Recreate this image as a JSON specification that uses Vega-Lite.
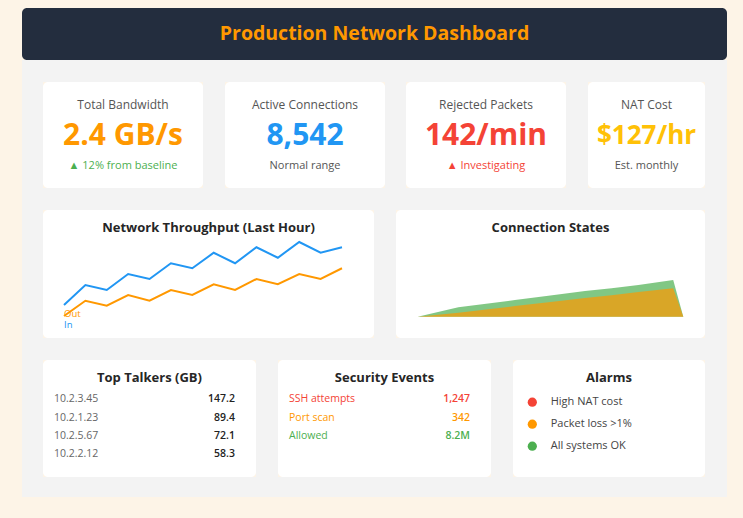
{
  "$schema": "https://vega.github.io/schema/vega-lite/v6.json",
  "background": "#fdf4e7",
  "padding": {"left": 22, "top": 8, "right": 16, "bottom": 21},
  "config": {"font": "Open Sans", "view": {"stroke": null}},
  "datasets": {
    "header": [{"title": "Production Network Dashboard"}],
    "kpi": [
      {"card": "bandwidth", "part": "label", "text": "Total Bandwidth", "tone": "caption"},
      {"card": "bandwidth", "part": "value", "text": "2.4 GB/s", "tone": "bandwidth"},
      {"card": "bandwidth", "part": "note", "text": "▲ 12% from baseline", "tone": "up"},
      {"card": "connections", "part": "label", "text": "Active Connections", "tone": "caption"},
      {"card": "connections", "part": "value", "text": "8,542", "tone": "connections"},
      {"card": "connections", "part": "note", "text": "Normal range", "tone": "neutral"},
      {"card": "rejected", "part": "label", "text": "Rejected Packets", "tone": "caption"},
      {"card": "rejected", "part": "value", "text": "142/min", "tone": "rejected"},
      {"card": "rejected", "part": "note", "text": "▲ Investigating", "tone": "alert"},
      {"card": "nat", "part": "label", "text": "NAT Cost", "tone": "caption"},
      {"card": "nat", "part": "value", "text": "$127/hr", "tone": "cost"},
      {"card": "nat", "part": "note", "text": "Est. monthly", "tone": "neutral"}
    ],
    "throughput": [
      {"t": 0, "series": "In", "v": 25.8}, {"t": 1, "series": "In", "v": 41.4}, {"t": 2, "series": "In", "v": 37.5},
      {"t": 3, "series": "In", "v": 50.0}, {"t": 4, "series": "In", "v": 46.1}, {"t": 5, "series": "In", "v": 58.4},
      {"t": 6, "series": "In", "v": 54.5}, {"t": 7, "series": "In", "v": 66.6}, {"t": 8, "series": "In", "v": 58.4},
      {"t": 9, "series": "In", "v": 70.9}, {"t": 10, "series": "In", "v": 62.7}, {"t": 11, "series": "In", "v": 75.0},
      {"t": 12, "series": "In", "v": 66.6}, {"t": 13, "series": "In", "v": 70.9},
      {"t": 0, "series": "Out", "v": 17.2}, {"t": 1, "series": "Out", "v": 29.1}, {"t": 2, "series": "Out", "v": 25.2},
      {"t": 3, "series": "Out", "v": 33.6}, {"t": 4, "series": "Out", "v": 29.1}, {"t": 5, "series": "Out", "v": 37.5},
      {"t": 6, "series": "Out", "v": 33.6}, {"t": 7, "series": "Out", "v": 42.0}, {"t": 8, "series": "Out", "v": 37.5},
      {"t": 9, "series": "Out", "v": 46.1}, {"t": 10, "series": "Out", "v": 42.0}, {"t": 11, "series": "Out", "v": 50.0},
      {"t": 12, "series": "Out", "v": 46.1}, {"t": 13, "series": "Out", "v": 54.5}
    ],
    "conn": [
      {"t": 0, "state": "total", "count": 0}, {"t": 15.3, "state": "total", "count": 9.4}, {"t": 36.6, "state": "total", "count": 16.7},
      {"t": 49.2, "state": "total", "count": 21.0}, {"t": 63.0, "state": "total", "count": 25.7}, {"t": 73.0, "state": "total", "count": 28.4},
      {"t": 83.1, "state": "total", "count": 31.7}, {"t": 96.2, "state": "total", "count": 36.7}, {"t": 100, "state": "total", "count": 0},
      {"t": 0, "state": "established", "count": 0}, {"t": 15.3, "state": "established", "count": 4.0}, {"t": 36.6, "state": "established", "count": 10.6},
      {"t": 49.2, "state": "established", "count": 14.5}, {"t": 63.0, "state": "established", "count": 18.7}, {"t": 73.0, "state": "established", "count": 21.4},
      {"t": 83.1, "state": "established", "count": 24.6}, {"t": 96.2, "state": "established", "count": 28.4}, {"t": 100, "state": "established", "count": 0}
    ],
    "talkers": [
      {"ip": "10.2.3.45", "gb": 147.2},
      {"ip": "10.2.1.23", "gb": 89.4},
      {"ip": "10.2.5.67", "gb": 72.1},
      {"ip": "10.2.2.12", "gb": 58.3}
    ],
    "security": [
      {"event": "SSH attempts", "count": 1247, "shown": "1,247", "severity": "high"},
      {"event": "Port scan", "count": 342, "shown": "342", "severity": "medium"},
      {"event": "Allowed", "count": 8200000, "shown": "8.2M", "severity": "ok"}
    ],
    "alarms": [
      {"alarm": "High NAT cost", "level": "critical"},
      {"alarm": "Packet loss >1%", "level": "warning"},
      {"alarm": "All systems OK", "level": "ok"}
    ]
  },
  "spacing": 0,
  "resolve": {"scale": {"color": "independent", "x": "independent", "y": "independent"}},
  "vconcat": [
    {
      "width": 705, "height": 52,
      "view": {"fill": "#232d3e", "cornerRadius": 5},
      "data": {"name": "header"},
      "mark": {"type": "text", "fontSize": 19.5, "fontWeight": "bold", "color": "#ff9800"},
      "encoding": {"text": {"field": "title"}}
    },
    {"width": 705, "height": 22, "data": {"values": []}, "mark": "text", "encoding": {}, "view": {"fill": "#f3f3f3"}},
    {
      "spacing": 0,
      "bounds": "flush",
      "resolve": {"scale": {"color": "independent", "x": "independent", "y": "independent"}},
      "hconcat": [
        {"width": 21, "height": 106, "data": {"values": []}, "mark": "text", "encoding": {}, "view": {"fill": "#f3f3f3"}},
        {
          "width": 160, "height": 106,
          "view": {"fill": "white", "cornerRadius": 5},
          "data": {"name": "kpi"},
          "transform": [{"filter": "datum.card === 'bandwidth'"}],
          "encoding": {
            "text": {"field": "text"},
            "y": {"field": "part", "type": "nominal", "scale": {"type": "point", "domain": ["label", "value", "note"], "range": [23, 84], "padding": 0}, "axis": null},
            "color": {"field": "tone", "type": "nominal", "scale": {"domain": ["caption", "bandwidth", "connections", "rejected", "cost", "up", "neutral", "alert"], "range": ["#555555", "#ff9800", "#2196f3", "#f44336", "#ffc107", "#4caf50", "#555555", "#f44336"]}, "legend": null}
          },
          "layer": [
            {"transform": [{"filter": "datum.part === 'label'"}], "mark": {"type": "text", "fontSize": 12}},
            {"transform": [{"filter": "datum.part === 'value'"}], "mark": {"type": "text", "fontSize": 30, "fontWeight": "bold"}},
            {"transform": [{"filter": "datum.part === 'note'"}], "mark": {"type": "text", "fontSize": 11}}
          ]
        },
        {"width": 22, "height": 106, "data": {"values": []}, "mark": "text", "encoding": {}, "view": {"fill": "#f3f3f3"}},
        {
          "width": 160, "height": 106,
          "view": {"fill": "white", "cornerRadius": 5},
          "data": {"name": "kpi"},
          "transform": [{"filter": "datum.card === 'connections'"}],
          "encoding": {
            "text": {"field": "text"},
            "y": {"field": "part", "type": "nominal", "scale": {"type": "point", "domain": ["label", "value", "note"], "range": [23, 84], "padding": 0}, "axis": null},
            "color": {"field": "tone", "type": "nominal", "scale": {"domain": ["caption", "bandwidth", "connections", "rejected", "cost", "up", "neutral", "alert"], "range": ["#555555", "#ff9800", "#2196f3", "#f44336", "#ffc107", "#4caf50", "#555555", "#f44336"]}, "legend": null}
          },
          "layer": [
            {"transform": [{"filter": "datum.part === 'label'"}], "mark": {"type": "text", "fontSize": 12}},
            {"transform": [{"filter": "datum.part === 'value'"}], "mark": {"type": "text", "fontSize": 30, "fontWeight": "bold"}},
            {"transform": [{"filter": "datum.part === 'note'"}], "mark": {"type": "text", "fontSize": 11}}
          ]
        },
        {"width": 21, "height": 106, "data": {"values": []}, "mark": "text", "encoding": {}, "view": {"fill": "#f3f3f3"}},
        {
          "width": 160, "height": 106,
          "view": {"fill": "white", "cornerRadius": 5},
          "data": {"name": "kpi"},
          "transform": [{"filter": "datum.card === 'rejected'"}],
          "encoding": {
            "text": {"field": "text"},
            "y": {"field": "part", "type": "nominal", "scale": {"type": "point", "domain": ["label", "value", "note"], "range": [23, 84], "padding": 0}, "axis": null},
            "color": {"field": "tone", "type": "nominal", "scale": {"domain": ["caption", "bandwidth", "connections", "rejected", "cost", "up", "neutral", "alert"], "range": ["#555555", "#ff9800", "#2196f3", "#f44336", "#ffc107", "#4caf50", "#555555", "#f44336"]}, "legend": null}
          },
          "layer": [
            {"transform": [{"filter": "datum.part === 'label'"}], "mark": {"type": "text", "fontSize": 12}},
            {"transform": [{"filter": "datum.part === 'value'"}], "mark": {"type": "text", "fontSize": 30, "fontWeight": "bold"}},
            {"transform": [{"filter": "datum.part === 'note'"}], "mark": {"type": "text", "fontSize": 11}}
          ]
        },
        {"width": 22, "height": 106, "data": {"values": []}, "mark": "text", "encoding": {}, "view": {"fill": "#f3f3f3"}},
        {
          "width": 117, "height": 106,
          "view": {"fill": "white", "cornerRadius": 5},
          "data": {"name": "kpi"},
          "transform": [{"filter": "datum.card === 'nat'"}],
          "encoding": {
            "text": {"field": "text"},
            "y": {"field": "part", "type": "nominal", "scale": {"type": "point", "domain": ["label", "value", "note"], "range": [23, 84], "padding": 0}, "axis": null},
            "color": {"field": "tone", "type": "nominal", "scale": {"domain": ["caption", "bandwidth", "connections", "rejected", "cost", "up", "neutral", "alert"], "range": ["#555555", "#ff9800", "#2196f3", "#f44336", "#ffc107", "#4caf50", "#555555", "#f44336"]}, "legend": null}
          },
          "layer": [
            {"transform": [{"filter": "datum.part === 'label'"}], "mark": {"type": "text", "fontSize": 12}},
            {"transform": [{"filter": "datum.part === 'value'"}], "mark": {"type": "text", "fontSize": 26, "fontWeight": "bold"}},
            {"transform": [{"filter": "datum.part === 'note'"}], "mark": {"type": "text", "fontSize": 11}}
          ]
        },
        {"width": 22, "height": 106, "data": {"values": []}, "mark": "text", "encoding": {}, "view": {"fill": "#f3f3f3"}}
      ]
    },
    {"width": 705, "height": 22, "data": {"values": []}, "mark": "text", "encoding": {}, "view": {"fill": "#f3f3f3"}},
    {
      "spacing": 0,
      "bounds": "flush",
      "resolve": {"scale": {"color": "independent", "x": "independent", "y": "independent"}},
      "hconcat": [
        {"width": 21, "height": 128, "data": {"values": []}, "mark": "text", "encoding": {}, "view": {"fill": "#f3f3f3"}},
        {
          "width": 331, "height": 128,
          "view": {"fill": "white", "cornerRadius": 5},
          "layer": [
            {
              "data": {"values": [{"part": "title", "text": "Network Throughput (Last Hour)"}]},
              "mark": {"type": "text", "fontSize": 13, "fontWeight": "bold", "color": "#262626"},
              "encoding": {
                "text": {"field": "text"},
                "y": {"field": "part", "type": "nominal", "scale": {"type": "point", "range": [0, 35]}, "axis": null}
              }
            },
            {
              "data": {"name": "throughput"},
              "mark": {"type": "line", "strokeWidth": 2},
              "encoding": {
                "x": {"field": "t", "type": "quantitative", "scale": {"domain": [0, 13], "range": [21, 299]}, "axis": null},
                "y": {"field": "v", "type": "quantitative", "scale": {"domain": [0, 100], "nice": false}, "axis": null},
                "color": {"field": "series", "type": "nominal", "scale": {"domain": ["In", "Out"], "range": ["#2196f3", "#ff9800"]}, "legend": null}
              }
            },
            {
              "data": {"values": [{"series": "Out"}, {"series": "In"}]},
              "mark": {"type": "text", "align": "left", "fontSize": 9.5},
              "encoding": {
                "text": {"field": "series"},
                "x": {"datum": 0, "type": "quantitative"},
                "y": {"field": "series", "type": "nominal", "scale": {"type": "point", "domain": ["Out", "In"], "range": [104, 115], "padding": 0}, "axis": null},
                "color": {"field": "series", "type": "nominal", "scale": {"domain": ["In", "Out"], "range": ["#2196f3", "#ff9800"]}, "legend": null}
              }
            }
          ],
          "resolve": {"scale": {"y": "independent"}}
        },
        {"width": 22, "height": 128, "data": {"values": []}, "mark": "text", "encoding": {}, "view": {"fill": "#f3f3f3"}},
        {
          "width": 309, "height": 128,
          "view": {"fill": "white", "cornerRadius": 5},
          "layer": [
            {
              "data": {"values": [{"part": "title", "text": "Connection States"}]},
              "mark": {"type": "text", "fontSize": 13, "fontWeight": "bold", "color": "#262626"},
              "encoding": {
                "text": {"field": "text"},
                "y": {"field": "part", "type": "nominal", "scale": {"type": "point", "range": [0, 35]}, "axis": null}
              }
            },
            {
              "layer": [
                {
                  "data": {"name": "conn"},
                  "transform": [{"filter": "datum.state === 'total'"}],
                  "mark": {"type": "area", "opacity": 0.7},
                  "encoding": {
                    "x": {"field": "t", "type": "quantitative", "scale": {"domain": [0, 100], "range": [21.7, 287.3]}, "axis": null},
                    "y": {"field": "count", "type": "quantitative", "scale": {"domain": [0, 100], "range": [106.7, 6.7], "nice": false}, "axis": null},
                    "color": {"field": "state", "type": "nominal", "scale": {"domain": ["total", "established"], "range": ["#4caf50", "#ff9800"]}, "legend": null}
                  }
                },
                {
                  "data": {"name": "conn"},
                  "transform": [{"filter": "datum.state === 'established'"}],
                  "mark": {"type": "area", "opacity": 0.7},
                  "encoding": {
                    "x": {"field": "t", "type": "quantitative", "scale": {"domain": [0, 100], "range": [21.7, 287.3]}, "axis": null},
                    "y": {"field": "count", "type": "quantitative", "scale": {"domain": [0, 100], "range": [106.7, 6.7], "nice": false}, "axis": null},
                    "color": {"field": "state", "type": "nominal", "scale": {"domain": ["total", "established"], "range": ["#4caf50", "#ff9800"]}, "legend": null}
                  }
                }
              ]
            }
          ],
          "resolve": {"scale": {"y": "independent"}}
        },
        {"width": 22, "height": 128, "data": {"values": []}, "mark": "text", "encoding": {}, "view": {"fill": "#f3f3f3"}}
      ]
    },
    {"width": 705, "height": 22, "data": {"values": []}, "mark": "text", "encoding": {}, "view": {"fill": "#f3f3f3"}},
    {
      "spacing": 0,
      "bounds": "flush",
      "resolve": {"scale": {"color": "independent", "x": "independent", "y": "independent"}},
      "hconcat": [
        {"width": 21, "height": 117, "data": {"values": []}, "mark": "text", "encoding": {}, "view": {"fill": "#f3f3f3"}},
        {
          "width": 213, "height": 117,
          "view": {"fill": "white", "cornerRadius": 5},
          "layer": [
            {
              "data": {"values": [{"part": "title", "text": "Top Talkers (GB)"}]},
              "mark": {"type": "text", "fontSize": 13, "fontWeight": "bold", "color": "#262626"},
              "encoding": {
                "text": {"field": "text"},
                "y": {"field": "part", "type": "nominal", "scale": {"type": "point", "range": [0, 35]}, "axis": null}
              }
            },
            {
              "data": {"name": "talkers"},
              "encoding": {
                "y": {"field": "ip", "type": "nominal", "sort": {"field": "gb", "order": "descending"}, "scale": {"type": "point", "range": [39.3, 94.3], "padding": 0}, "axis": null}
              },
              "layer": [
                {
                  "mark": {"type": "text", "align": "left", "fontSize": 10.5, "color": "#666666"},
                  "encoding": {
                    "text": {"field": "ip"},
                    "x": {"datum": "name", "type": "nominal", "scale": {"type": "point", "domain": ["name", "value"], "range": [11, 192], "padding": 0}, "axis": null}
                  }
                },
                {
                  "mark": {"type": "text", "align": "right", "fontSize": 10.5, "fontWeight": 600, "color": "#222222"},
                  "encoding": {
                    "text": {"field": "gb", "type": "quantitative", "format": ".1f"},
                    "x": {"datum": "value", "type": "nominal", "scale": {"type": "point", "domain": ["name", "value"], "range": [11, 192], "padding": 0}, "axis": null}
                  }
                }
              ]
            }
          ],
          "resolve": {"scale": {"y": "independent"}}
        },
        {"width": 22, "height": 117, "data": {"values": []}, "mark": "text", "encoding": {}, "view": {"fill": "#f3f3f3"}},
        {
          "width": 213, "height": 117,
          "view": {"fill": "white", "cornerRadius": 5},
          "layer": [
            {
              "data": {"values": [{"part": "title", "text": "Security Events"}]},
              "mark": {"type": "text", "fontSize": 13, "fontWeight": "bold", "color": "#262626"},
              "encoding": {
                "text": {"field": "text"},
                "y": {"field": "part", "type": "nominal", "scale": {"type": "point", "range": [0, 35]}, "axis": null}
              }
            },
            {
              "data": {"name": "security"},
              "encoding": {
                "y": {"field": "event", "type": "nominal", "sort": null, "scale": {"type": "point", "range": [39.3, 76], "padding": 0}, "axis": null},
                "color": {"field": "severity", "type": "nominal", "scale": {"domain": ["high", "medium", "ok"], "range": ["#f44336", "#ff9800", "#4caf50"]}, "legend": null}
              },
              "layer": [
                {
                  "mark": {"type": "text", "align": "left", "fontSize": 10.5},
                  "encoding": {
                    "text": {"field": "event"},
                    "x": {"datum": "name", "type": "nominal", "scale": {"type": "point", "domain": ["name", "value"], "range": [11, 192], "padding": 0}, "axis": null}
                  }
                },
                {
                  "mark": {"type": "text", "align": "right", "fontSize": 10.5, "fontWeight": 600},
                  "encoding": {
                    "text": {"field": "shown"},
                    "x": {"datum": "value", "type": "nominal", "scale": {"type": "point", "domain": ["name", "value"], "range": [11, 192], "padding": 0}, "axis": null}
                  }
                }
              ]
            }
          ],
          "resolve": {"scale": {"y": "independent"}}
        },
        {"width": 22, "height": 117, "data": {"values": []}, "mark": "text", "encoding": {}, "view": {"fill": "#f3f3f3"}},
        {
          "width": 192, "height": 117,
          "view": {"fill": "white", "cornerRadius": 5},
          "layer": [
            {
              "data": {"values": [{"part": "title", "text": "Alarms"}]},
              "mark": {"type": "text", "fontSize": 13, "fontWeight": "bold", "color": "#262626"},
              "encoding": {
                "text": {"field": "text"},
                "y": {"field": "part", "type": "nominal", "scale": {"type": "point", "range": [0, 35]}, "axis": null}
              }
            },
            {
              "data": {"name": "alarms"},
              "encoding": {
                "y": {"field": "alarm", "type": "nominal", "sort": null, "scale": {"type": "point", "range": [42.2, 86.2], "padding": 0}, "axis": null}
              },
              "layer": [
                {
                  "mark": {"type": "circle", "size": 85, "opacity": 1},
                  "encoding": {
                    "x": {"datum": "dot", "type": "nominal", "scale": {"type": "point", "domain": ["dot", "text"], "range": [19.3, 37.7], "padding": 0}, "axis": null},
                    "color": {"field": "level", "type": "nominal", "scale": {"domain": ["critical", "warning", "ok"], "range": ["#f44336", "#ff9800", "#4caf50"]}, "legend": null}
                  }
                },
                {
                  "mark": {"type": "text", "align": "left", "fontSize": 11, "color": "#444444"},
                  "encoding": {
                    "text": {"field": "alarm"},
                    "x": {"datum": "text", "type": "nominal", "scale": {"type": "point", "domain": ["dot", "text"], "range": [19.3, 37.7], "padding": 0}, "axis": null}
                  }
                }
              ]
            }
          ],
          "resolve": {"scale": {"y": "independent"}}
        },
        {"width": 22, "height": 117, "data": {"values": []}, "mark": "text", "encoding": {}, "view": {"fill": "#f3f3f3"}}
      ]
    },
    {"width": 705, "height": 20, "data": {"values": []}, "mark": "text", "encoding": {}, "view": {"fill": "#f3f3f3"}}
  ]
}
